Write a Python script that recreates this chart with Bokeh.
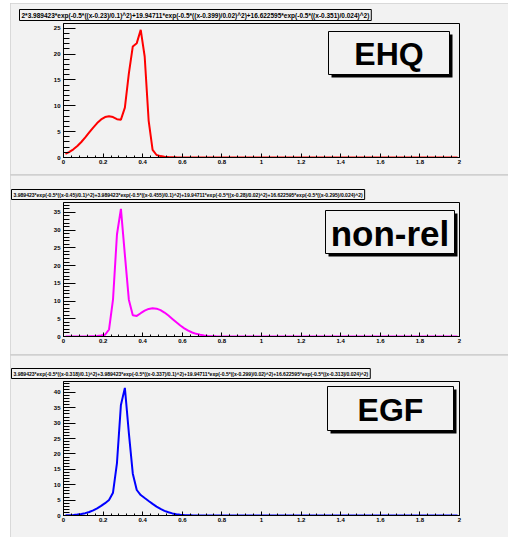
from bokeh.plotting import figure
from bokeh.layouts import column
from bokeh.models import (Range1d, SingleIntervalTicker, NumeralTickFormatter,
                          BoxAnnotation, Label)
from bokeh.embed import file_html
from bokeh.resources import INLINE

x = [0.01, 0.03, 0.05, 0.07, 0.09, 0.11, 0.13, 0.15, 0.17, 0.19,
     0.21, 0.23, 0.25, 0.27, 0.29, 0.31, 0.33, 0.35, 0.37, 0.39,
     0.41, 0.43, 0.45, 0.47, 0.49, 0.51, 0.53, 0.55, 0.57, 0.59,
     0.61, 0.63, 0.65, 0.67, 0.69, 0.71, 0.73, 0.75, 0.77, 0.79,
     0.81, 0.83, 0.85, 0.87, 0.89, 1.99]

ehq = [0.709, 1.080, 1.579, 2.218, 2.994, 3.884, 4.839, 5.793, 6.665, 7.365,
       7.821, 7.979, 7.821, 7.421, 7.323, 9.657, 16.226, 21.484, 22.117, 24.685,
       19.536, 7.154, 1.485, 0.485, 0.272, 0.158, 0.089, 0.048, 0.025, 0.012,
       0.006, 0.003, 0.001, 0.0, 0.0, 0.0, 0.0, 0.0, 0.0, 0.0,
       0.0, 0.0, 0.0, 0.0, 0.0, 0.0]

nonrel = [0.000, 0.001, 0.002, 0.005, 0.011, 0.023, 0.044, 0.082, 0.148, 0.258,
          0.497, 1.973, 10.370, 28.775, 35.999, 23.043, 10.385, 5.967, 5.805, 6.572,
          7.290, 7.779, 7.976, 7.858, 7.437, 6.763, 5.909, 4.961, 4.001, 3.101,
          2.309, 1.651, 1.135, 0.749, 0.475, 0.290, 0.170, 0.096, 0.052, 0.027,
          0.013, 0.006, 0.003, 0.001, 0.000, 0.0]

egf = [0.054, 0.099, 0.175, 0.297, 0.486, 0.762, 1.150, 1.667, 2.323, 3.114,
       4.009, 5.052, 7.405, 17.043, 35.933, 41.462, 26.874, 13.583, 8.285, 6.647,
       5.675, 4.720, 3.780, 2.900, 2.150, 1.520, 1.040, 0.680, 0.430, 0.260,
       0.152, 0.085, 0.046, 0.023, 0.011, 0.005, 0.002, 0.001, 0.0, 0.0,
       0.0, 0.0, 0.0, 0.0, 0.0, 0.0]

titles = [
    "2*3.989423*exp(-0.5*((x-0.23)/0.1)^2)+19.94711*exp(-0.5*((x-0.399)/0.02)^2)+16.622595*exp(-0.5*((x-0.351)/0.024)^2)",
    "3.989423*exp(-0.5*((x-0.45)/0.1)^2)+3.989423*exp(-0.5*((x-0.455)/0.1)^2)+19.94711*exp(-0.5*((x-0.28)/0.02)^2)+16.622595*exp(-0.5*((x-0.295)/0.024)^2)",
    "3.989423*exp(-0.5*((x-0.318)/0.1)^2)+3.989423*exp(-0.5*((x-0.337)/0.1)^2)+19.94711*exp(-0.5*((x-0.299)/0.02)^2)+16.622595*exp(-0.5*((x-0.313)/0.024)^2)",
]
names = ["EHQ", "non-rel", "EGF"]
colors = ["#ff0000", "#ff00ff", "#0000ff"]

BG = "#f2f2f2"
FONT = "Liberation Sans"


def box(l, r, t, b, fill, line=None, lw=1):
    return BoxAnnotation(left=l, right=r, top=t, bottom=b,
                         left_units="canvas", right_units="canvas",
                         top_units="canvas", bottom_units="canvas",
                         fill_color=fill, fill_alpha=1.0,
                         line_color=line, line_alpha=1.0 if line else 0.0,
                         line_width=lw)


def panel(y, color, title, name, height, top, bottom, title_size, title_offset,
          name_size, nbox):
    p = figure(width=498, height=height, x_range=Range1d(0, 2),
               y_range=Range1d(0, max(y) * 1.05),
               output_backend="svg", toolbar_location=None,
               min_border_left=53, min_border_right=49,
               min_border_top=top, min_border_bottom=bottom)
    p.background_fill_color = BG
    p.border_fill_color = BG
    p.outline_line_color = "black"
    p.outline_line_width = 1
    p.grid.visible = False

    # formula title in its box
    p.title.text = title
    p.title.align = "left"
    p.title.offset = title_offset
    p.title.standoff = 6
    p.title.text_font = FONT
    p.title.text_font_style = "bold"
    p.title.text_font_size = title_size
    p.title.text_color = "black"
    p.title.border_line_color = "black"
    p.title.border_line_width = 1
    p.title.background_fill_color = BG
    try:
        p.title.padding = 2
    except Exception:
        pass

    p.xaxis.ticker = SingleIntervalTicker(interval=0.2, num_minor_ticks=5)
    p.xaxis.formatter = NumeralTickFormatter(format="0.[0]")
    p.yaxis.ticker = SingleIntervalTicker(interval=5, num_minor_ticks=5)
    for ax in (p.xaxis, p.yaxis):
        ax.axis_line_color = "black"
        ax.major_tick_line_color = "black"
        ax.minor_tick_line_color = "black"
        ax.major_tick_out = 0
        ax.minor_tick_out = 0
        ax.major_label_text_font = FONT
        ax.major_label_text_font_style = "bold"
        ax.major_label_text_font_size = "6px"
        ax.major_label_text_color = "black"
    p.xaxis.major_tick_in = 4
    p.xaxis.minor_tick_in = 2
    p.xaxis.major_label_standoff = 2
    p.yaxis.major_tick_in = 12
    p.yaxis.minor_tick_in = 6
    p.yaxis.major_label_standoff = 3

    p.line(x, y, line_color=color, line_width=2)

    # name box with shadow
    l, r, t, b = nbox
    p.add_layout(box(l + 3, r + 3, t + 3, b + 3, "black"))
    p.add_layout(box(l, r, t, b, BG, "black"))
    p.add_layout(Label(x=(l + r) / 2, y=(t + b) / 2 + 1, x_units="canvas", y_units="canvas",
                       text=name, text_align="center", text_baseline="middle",
                       text_font=FONT, text_font_style="bold",
                       text_font_size=name_size, text_color="black"))
    return p


p1 = panel(ehq, colors[0], titles[0], names[0], 171, 20, 17, "6.5px", -44,
           "32px", (318, 439, 28, 71))
p2 = panel(nonrel, colors[1], titles[1], names[1], 179, 27, 18, "5.05px", -52,
           "35px", (315, 444, 35, 78))
p3 = panel(egf, colors[2], titles[2], names[2], 182, 26, 22, "5.05px", -52,
           "32px", (317, 443, 31, 75))

layout = column(p1, p2, p3, spacing=1, margin=(3, 0, 0, 10),
                styles={"background-color": "#d0d0d0"})
open("out.html", "w").write(file_html(layout, INLINE))
